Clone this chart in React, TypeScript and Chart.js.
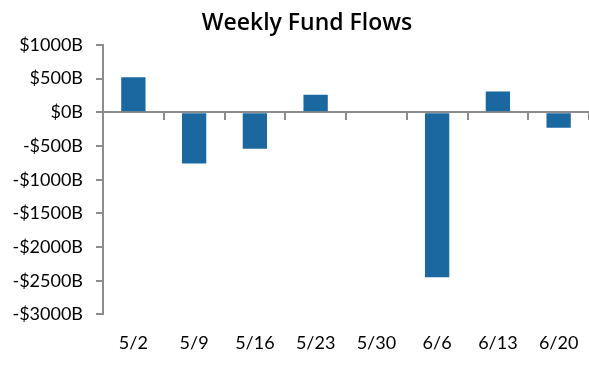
import React, { useEffect, useRef } from "react";
import { Chart, registerables } from "chart.js";

Chart.register(...registerables);

const categories = ["5/2", "5/9", "5/16", "5/23", "5/30", "6/6", "6/13", "6/20"];
const flows = [520, -760, -540, 260, 0, -2450, 310, -230];
const yTicks = { min: -3000, max: 1000, step: 500 };
const titleText = "Weekly Fund Flows";

const BAR = "#1b67a0";
const AXIS = "#8c8c8c";
const FONT = "Lato, 'Noto Sans', sans-serif";
const TITLE_FONT = "600 23px 'Open Sans', Lato, sans-serif";

const titlePlugin = {
  id: "customTitle",
  afterDraw(chart: any) {
    const ctx = chart.ctx;
    ctx.save();
    ctx.font = TITLE_FONT;
    ctx.fillStyle = "#000";
    ctx.textAlign = "center";
    ctx.textBaseline = "middle";
    ctx.fillText(titleText, 307, 23);
    ctx.restore();
  },
};

export default function App() {
  const ref = useRef<HTMLCanvasElement>(null);

  useEffect(() => {
    document.body.style.margin = "0";
    const canvas = ref.current;
    if (!canvas) return;
    const chart = new Chart(canvas, {
      type: "bar",
      data: {
        labels: categories,
        datasets: [
          {
            data: flows,
            backgroundColor: BAR,
            borderWidth: 0,
            barPercentage: 0.4,
            categoryPercentage: 1,
          },
        ],
      },
      plugins: [titlePlugin],
      options: {
        animation: false,
        responsive: false,
        devicePixelRatio: 1,
        layout: { padding: { left: 0, right: 0, top: 45, bottom: 11 } },
        plugins: {
          legend: { display: false },
          tooltip: { enabled: false },
          title: { display: false },
        },
        scales: {
          x: {
            type: "category",
            offset: true,
            grid: { display: false },
            border: { display: false },
            ticks: {
              color: "#000",
              font: { family: FONT, size: 18 },
              padding: 10,
              maxRotation: 0,
              autoSkip: false,
            },
          },
          x2: {
            type: "category",
            axis: "x",
            labels: categories,
            position: { y: 0 } as any,
            offset: true,
            afterFit: (scale: any) => {
              scale.height = 0;
            },
            grid: {
              offset: true,
              drawOnChartArea: false,
              drawTicks: true,
              tickLength: 7,
              color: AXIS,
              lineWidth: 2,
            },
            border: { display: true, color: AXIS, width: 2 },
            ticks: { display: false },
          },
          y: {
            min: yTicks.min,
            max: yTicks.max,
            afterFit: (scale: any) => {
              scale.width = 103;
            },
            grid: {
              drawOnChartArea: false,
              drawTicks: true,
              tickLength: 7,
              color: AXIS,
              lineWidth: 2,
            },
            border: { display: true, color: AXIS, width: 2 },
            ticks: {
              stepSize: yTicks.step,
              color: "#000",
              font: { family: FONT, size: 18 },
              padding: 13,
              callback: (v: any) => {
                const n = Number(v);
                return n < 0 ? `-$${-n}B` : `$${n}B`;
              },
            },
          },
        },
      },
    });
    return () => chart.destroy();
  }, []);

  return (
    <div style={{ width: 589, height: 375 }}>
      <canvas ref={ref} width={589} height={375} style={{ display: "block" }} />
    </div>
  );
}
